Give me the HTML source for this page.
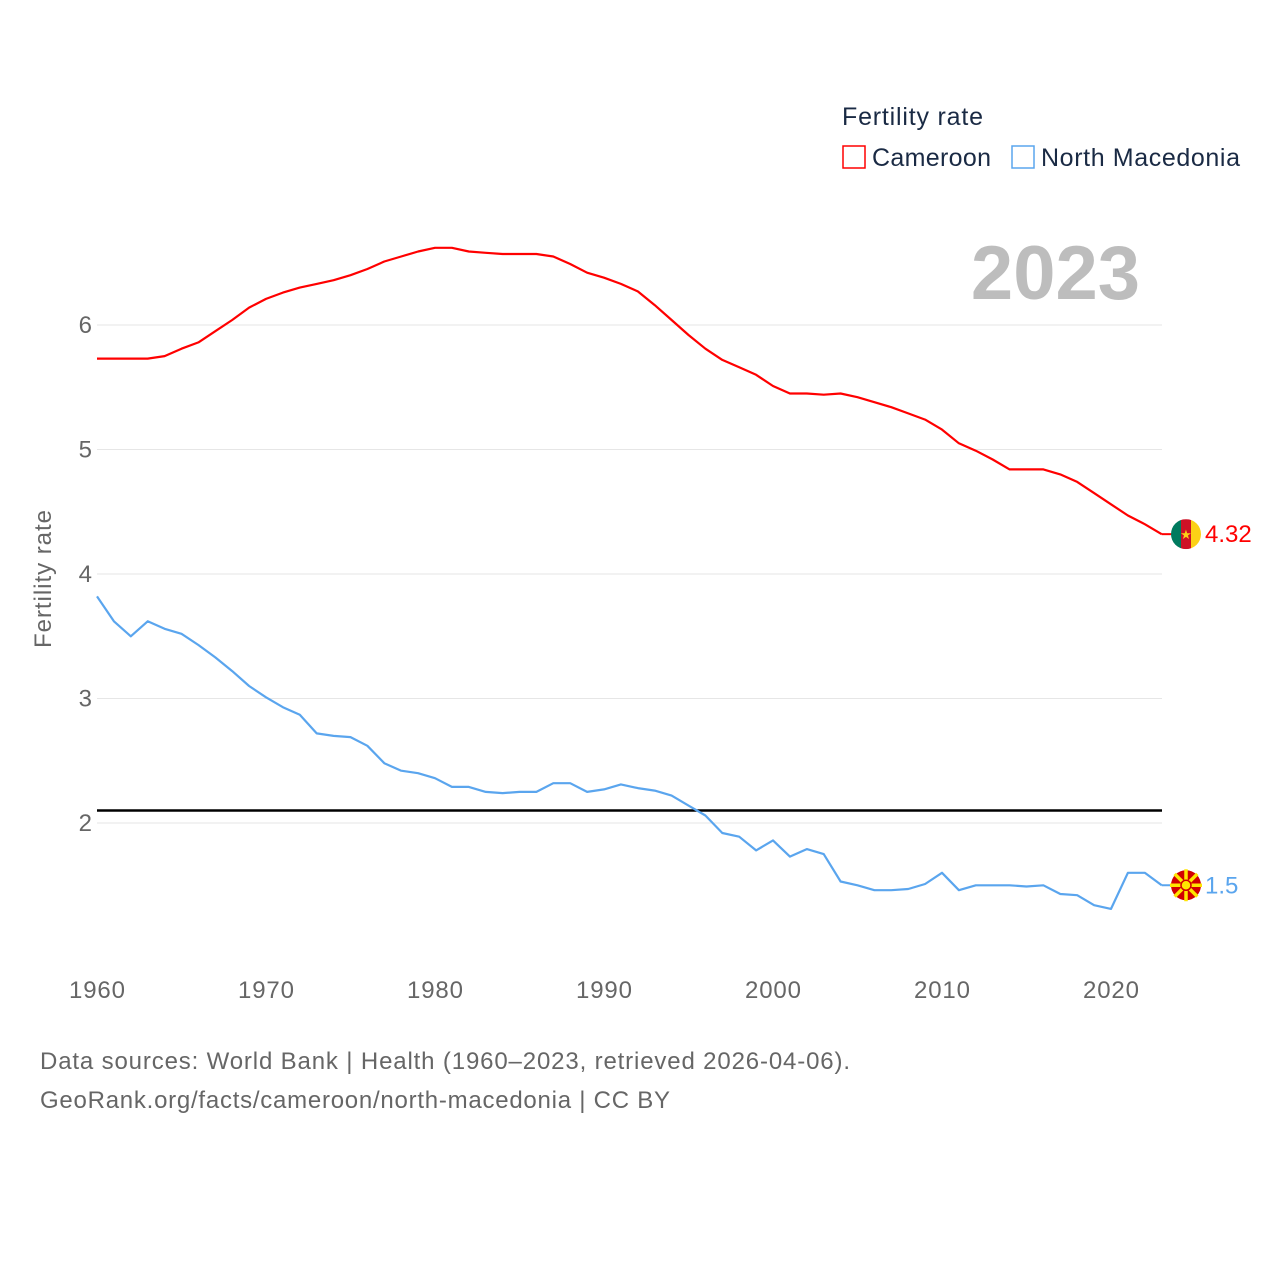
<!DOCTYPE html>
<html><head><meta charset="utf-8">
<style>
body{margin:0;background:#fff;}
svg text{font-family:"Liberation Sans",sans-serif;}
</style></head>
<body>
<svg id="chart" width="1280" height="1280" xmlns="http://www.w3.org/2000/svg">
<rect width="1280" height="1280" fill="#fff"/>
<g id="grid"></g>
<g id="yticks"></g>
<g id="xticks"></g>
<text x="51" y="579" transform="rotate(-90 51 579)" text-anchor="middle" font-size="24" fill="#666" textLength="138">Fertility rate</text>
<text x="1140" y="299" text-anchor="end" font-size="76" font-weight="bold" fill="#bdbdbd">2023</text>
<text x="842" y="125" font-size="25" fill="#1a2a44" textLength="141">Fertility rate</text>
<g>
<rect x="843" y="146" width="22" height="22" fill="none" stroke="#ff0000" stroke-width="1.5"/>
<text x="872" y="166" font-size="25" fill="#1a2a44" textLength="119">Cameroon</text></g>
<g>
<rect x="1012" y="146" width="22" height="22" fill="none" stroke="#5aa5ee" stroke-width="1.5"/>
<text x="1041" y="166" font-size="25" fill="#1a2a44" textLength="199">North Macedonia</text></g>
<g id="series"></g>
<text x="40" y="1069" font-size="24" fill="#666" textLength="810">Data sources: World Bank | Health (1960–2023, retrieved 2026-04-06).</text>
<text x="40" y="1108" font-size="24" fill="#666" textLength="630">GeoRank.org/facts/cameroon/north-macedonia | CC BY</text>
</svg>
<script>
const years = [];
for (let y = 1960; y <= 2023; y++) years.push(y);
const cameroon = [5.73,5.73,5.73,5.73,5.75,5.81,5.86,5.95,6.04,6.14,6.21,6.26,6.30,6.33,6.36,6.40,6.45,6.51,6.55,6.59,6.62,6.62,6.59,6.58,6.57,6.57,6.57,6.55,6.49,6.42,6.38,6.33,6.27,6.16,6.04,5.92,5.81,5.72,5.66,5.60,5.51,5.45,5.45,5.44,5.45,5.42,5.38,5.34,5.29,5.24,5.16,5.05,4.99,4.92,4.84,4.84,4.84,4.80,4.74,4.65,4.56,4.47,4.40,4.32];
const macedonia = [3.82,3.62,3.50,3.62,3.56,3.52,3.43,3.33,3.22,3.10,3.01,2.93,2.87,2.72,2.70,2.69,2.62,2.48,2.42,2.40,2.36,2.29,2.29,2.25,2.24,2.25,2.25,2.32,2.32,2.25,2.27,2.31,2.28,2.26,2.22,2.14,2.06,1.92,1.89,1.78,1.86,1.73,1.79,1.75,1.53,1.50,1.46,1.46,1.47,1.51,1.60,1.46,1.50,1.50,1.50,1.49,1.50,1.43,1.42,1.34,1.31,1.60,1.60,1.50];
const yTicks = [2,3,4,5,6];
const xTicks = [1960,1970,1980,1990,2000,2010,2020];
const replacementRate = 2.1;
const cameroonLabel = "4.32";
const macedoniaLabel = "1.5";

const NS = "http://www.w3.org/2000/svg";
const xS = v => 97 + (v - 1960) * (1111 - 97) / 60;
const yS = v => 823 - (v - 2) * 124.5;
function mk(tag, attrs, parent){const e=document.createElementNS(NS,tag);for(const k in attrs)e.setAttribute(k,attrs[k]);parent.appendChild(e);return e;}

const grid = document.getElementById('grid'), yt = document.getElementById('yticks'), xt = document.getElementById('xticks'), ser = document.getElementById('series');
yTicks.forEach(v=>{
  const l = mk('line',{x1:97,x2:1162,y1:yS(v),y2:yS(v),stroke:'#e6e6e6','stroke-width':1},grid);
  
  
  const t = mk('text',{x:92,y:yS(v)+8,'text-anchor':'end','font-size':24,fill:'#666'},yt);
  t.textContent = v;
  
  
});
xTicks.forEach(v=>{
  const t = mk('text',{x:xS(v),y:998,'text-anchor':'middle','font-size':24,fill:'#666',textLength:56},xt);
  t.textContent = v;
  
  
});
const ref = mk('line',{x1:97,x2:1162,y1:yS(replacementRate),y2:yS(replacementRate),stroke:'#000','stroke-width':2.5},ser);



function line(vals,color,name){
  const d = vals.map((v,i)=>(i?'L':'M')+xS(years[i]).toFixed(1)+' '+yS(v).toFixed(1)).join(' ');
  const p = mk('path',{d:d,fill:'none',stroke:color,'stroke-width':2.2,'stroke-linejoin':'round'},ser);
  
  
}
line(cameroon,'#ff0000','cameroon-line');
line(macedonia,'#5aa5ee','north-macedonia-line');

const cy = yS(cameroon[cameroon.length-1]), my = yS(macedonia[macedonia.length-1]), ex = xS(2023);
mk('line',{x1:ex,x2:1175,y1:cy,y2:cy,stroke:'#ff0000','stroke-width':2},ser);
mk('line',{x1:ex,x2:1175,y1:my,y2:my,stroke:'#5aa5ee','stroke-width':2},ser);
const fc = mk('g',{},ser);


const cp = mk('clipPath',{id:'cc'},fc);
mk('circle',{cx:1186,cy:cy,r:15},cp);
const gc = mk('g',{'clip-path':'url(#cc)'},fc);
mk('rect',{x:1171,y:cy-15,width:10,height:30,fill:'#007a5e'},gc);
mk('rect',{x:1181,y:cy-15,width:10,height:30,fill:'#ce1126'},gc);
mk('rect',{x:1191,y:cy-15,width:10,height:30,fill:'#fcd116'},gc);
mk('text',{x:1186,y:cy+5,'text-anchor':'middle','font-size':13,fill:'#fcd116'},gc).textContent='★';
const fm = mk('g',{},ser);


mk('circle',{cx:1186,cy:my,r:15,fill:'#d20000'},fm);
for(let i=0;i<8;i++){const a=i*Math.PI/4;mk('line',{x1:1186,y1:my,x2:1186+16*Math.cos(a),y2:my+16*Math.sin(a),stroke:'#ffe600','stroke-width':3.5},fm);}
mk('circle',{cx:1186,cy:my,r:5,fill:'#ffe600',stroke:'#d20000','stroke-width':1.5},fm);
const lc = mk('text',{x:1205,y:cy+8,'font-size':24,fill:'#ff0000'},ser);
lc.textContent = cameroonLabel;


const lm = mk('text',{x:1205,y:my+8,'font-size':24,fill:'#5aa5ee'},ser);
lm.textContent = macedoniaLabel;


</script>
</body></html>
